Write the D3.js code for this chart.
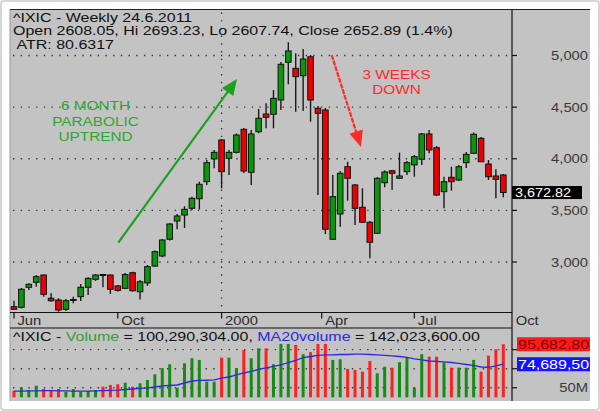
<!DOCTYPE html>
<html><head><meta charset="utf-8">
<script src="https://cdn.jsdelivr.net/npm/d3@7"></script>
<style>body{margin:0;background:#fff}svg{display:block}text{font-family:"Liberation Sans",Arial,sans-serif;white-space:pre}</style>
</head><body><svg id="c" width="600" height="411"></svg>
<script>
// ---- data (weekly ^IXIC) ----
const openP  = [2567,2561,2755,2803,2874,2649,2632,2542,2632,2664,2755,2832,2879,2874,2768,2745,2896,2712,2797,2961,3058,3220,3397,3455,3520,3613,3778,3998,4182,4004,4062,4285,3869,4262,4433,4431,4569,4934,4876,4804,4988,4489,4472,3220,3465,3923,3746,3530,3385,3278,3768,3884,3811,3875,3940,3995,4240,4107,3681,3820,3794,3962,4053,4198,3949,3833,3843];
const highP  = [2625,2748,2794,2874,2879,2697,2649,2642,2664,2787,2852,2884,2881,2879,2777,2893,2906,2826,2971,3111,3223,3378,3465,3540,3632,3778,3988,4085,4191,4085,4245,4298,4278,4482,4537,4666,4937,5128,5021,5063,5005,4511,4492,3843,3881,3971,3755,3714,3397,3823,3886,3891,4059,3978,4036,4249,4278,4124,3826,3923,3940,4065,4254,4211,3988,3898,3852];
const lowP   = [2535,2550,2729,2761,2664,2616,2519,2526,2600,2622,2680,2816,2755,2690,2714,2739,2712,2637,2768,2952,3048,3208,3317,3329,3504,3509,3746,3908,3714,3843,4051,3862,3746,4247,4295,4295,4472,4721,4456,4462,4359,3649,3271,3213,3342,3594,3358,3378,3036,3271,3724,3697,3804,3843,3826,3940,4053,3639,3520,3691,3784,3910,4046,3969,3794,3617,3627];
const closeP = [2542,2736,2784,2858,2687,2625,2535,2625,2637,2755,2842,2874,2876,2736,2724,2879,2722,2809,2955,3100,3213,3368,3446,3510,3617,3753,3962,4062,3875,4062,4230,3881,4240,4392,4401,4585,4915,5044,4795,4966,4569,4440,3317,3633,3859,3811,3520,3385,3191,3811,3872,3859,3833,3962,4020,4240,4085,3649,3778,3778,3923,4043,4237,3971,3826,3801,3672.82];
const volumeM = [46.6,50.1,47.7,52.2,48.7,47.7,48.7,45.9,48.7,45.9,46.6,47.7,51.2,52.9,53.7,55.4,51.2,54.7,58.2,64.2,70.5,74.7,50.1,75.7,81.0,79.2,56.4,56.4,81.6,81.6,70.5,89.7,81.0,91.4,91.4,74.7,96.0,96.0,94.9,85.2,87.3,96.0,96.0,79.2,79.9,69.7,68.7,66.9,78.1,65.2,72.1,71.1,76.8,81.6,50.1,85.2,82.6,82.6,76.3,71.1,71.1,71.1,79.2,66.9,83.7,90.4,95.68];
const ma20M = [46.5,46.5,46.8,46.8,47,47,46.8,46.8,46.5,46.5,46.5,46.7,46.9,47.2,47.5,48.2,48.7,49.3,49.8,50.8,51.9,52.4,52.9,55,57.1,57.7,57.9,58.2,60,61.3,63.4,65.5,67.1,69.2,70.8,72.4,73.9,76.5,78.6,81.6,82.8,83.9,84.4,84.4,84.9,84.9,85.2,85.2,84.9,84.4,83.9,83.4,82.8,81.8,80.2,79.2,78.1,77.6,77.1,76.5,75.5,74.4,73.4,71.8,71.5,72.9,74.69];
const priceTicks = [3000,3500,4000,4500,5000];
const xTickIdx = [0,14,28,41.5,54,67];
const xTickLabels = ["Jun","Oct","2000","Apr","Jul","Oct"];
const yearTickIdx = [28];
const volGrid = [50,70,90];
const volTickLabels = [{v:50,t:"50M"}];
const headerLines = ["^IXIC - Weekly 24.6.2011","Open 2608.05, Hi 2693.23, Lo 2607.74, Close 2652.89 (1.4%)"," ATR: 80.6317"];
const volHeader = [["^IXIC - ","#111"],["Volume","#3c9c3c"],[" = 100,290,304.00, ","#111"],["MA20volume","#2a2ae0"],[" = 142,023,600.00","#111"]];
const volLabels = [{v:95.68,t:"95,682,80",bg:"#ff1a1a",fg:"#7a0000"},{v:74.69,t:"74,689,50",bg:"#1414ff",fg:"#ffffff"}];
const closeLabel = "3,672.82";
const greenArrow = {from:[14.07,3187], to:[30.08,4772]};
const redArrow = {from:[42.85,5005], to:[46.8,4114]};
const greenText = {idx:11.0, prices:[4472,4317,4172], lines:["6 MONTH","PARABOLIC","UPTREND"]};
const redText = {idx:51.6, prices:[4772,4627], lines:["3 WEEKS","DOWN"]};

// ---- layout ----
const L=10,R=590,T=9.5,B=401,PR=512,PB=312.5,SEP=328;
const SX=1.23;
const svg=d3.select("#c");
const x=d3.scaleLinear().domain([0,66]).range([14,503.3]);
const y=d3.scaleLinear().domain([3000,5000]).range([262,55.5]);
const yv=d3.scaleLinear().domain([40,100]).range([397.3,340.1]);
const GREEN="#0b970b", RED="#ee0000";

function txt(g,px,py,s,o={}){
  return g.append("text").attr("transform",`translate(${px},${py}) scale(${o.sx||SX},1)`)
    .attr("font-size",o.size||13).attr("fill",o.fill||"#111")
    .attr("text-anchor",o.anchor||"start").attr("xml:space","preserve").text(s);
}

svg.append("rect").attr("x",1).attr("y",1).attr("width",598).attr("height",409).attr("fill","#fff").attr("stroke","#d6d6d6").attr("stroke-width",2).attr("rx",3);
svg.append("rect").attr("x",L).attr("y",T).attr("width",R-L).attr("height",B-T).attr("fill","#c3c3c3");
svg.append("line").attr("x1",L).attr("x2",R).attr("y1",T).attr("y2",T).attr("stroke","#222").attr("stroke-width",1);
svg.append("line").attr("x1",L).attr("x2",L).attr("y1",T).attr("y2",B).attr("stroke","#999").attr("stroke-width",1);

const grid=svg.append("g").attr("stroke","#3a3a3a").attr("stroke-width",1.4).attr("stroke-dasharray","1.4,6.3");
priceTicks.forEach(t=>grid.append("line").attr("x1",13).attr("x2",PR).attr("y1",y(t)).attr("y2",y(t)));
yearTickIdx.forEach(i=>grid.append("line").attr("x1",x(i)).attr("x2",x(i)).attr("y1",T+3).attr("y2",PB));
volGrid.forEach(v=>grid.append("line").attr("x1",13).attr("x2",PR).attr("y1",yv(v)).attr("y2",yv(v)));

// axes frame
const ax=svg.append("g").attr("stroke","#111").attr("stroke-width",1.2);
ax.append("line").attr("x1",L).attr("x2",PR).attr("y1",PB).attr("y2",PB);
ax.append("line").attr("x1",L).attr("x2",PR).attr("y1",SEP).attr("y2",SEP);
ax.append("line").attr("x1",PR).attr("x2",PR).attr("y1",T).attr("y2",B);
priceTicks.forEach(t=>ax.append("line").attr("x1",PR).attr("x2",PR+5).attr("y1",y(t)).attr("y2",y(t)));
volGrid.forEach(v=>ax.append("line").attr("x1",PR).attr("x2",PR+5).attr("y1",yv(v)).attr("y2",yv(v)));
xTickIdx.forEach(i=>{ if(x(i)<PR-2) ax.append("line").attr("x1",x(i)).attr("x2",x(i)).attr("y1",PB).attr("y2",PB+6);});

// price labels
priceTicks.forEach(t=>txt(svg,588,y(t)+4.5,d3.format(",")(t),{anchor:"end",fill:"#3a3a3a",size:12}));
xTickIdx.forEach((i,k)=>txt(svg,x(i)+(x(i)<PR-2?3.5:5),PB+12.5,xTickLabels[k],{fill:"#2a2a2a",size:12}));

// candles
const idx=d3.range(openP.length);
const cg=svg.append("g");
idx.forEach(i=>{
  const up=closeP[i]>=openP[i];
  cg.append("line").attr("x1",x(i)).attr("x2",x(i)).attr("y1",y(highP[i])).attr("y2",y(lowP[i])).attr("stroke","#1a1a1a").attr("stroke-width",1.4);
  const top=y(Math.max(openP[i],closeP[i])), bot=y(Math.min(openP[i],closeP[i]));
  cg.append("rect").attr("x",x(i)-2.8).attr("width",5.6).attr("y",top).attr("height",Math.max(bot-top,1))
    .attr("fill",up?GREEN:RED).attr("stroke","#111").attr("stroke-width",1);
});

// close label
const last=closeP.length-1;
svg.append("rect").attr("x",PR).attr("y",y(closeP[last])-6.5).attr("width",70).attr("height",13).attr("fill","#000");
txt(svg,515,y(closeP[last])+4.5,closeLabel,{fill:"#fff",size:12,sx:1.2});

// volume
const vg=svg.append("g");
idx.forEach(i=>{
  const up=closeP[i]>=openP[i];
  vg.append("rect").attr("x",x(i)-1.5).attr("width",3).attr("y",yv(volumeM[i])).attr("height",yv(40)-yv(volumeM[i]))
    .attr("fill",up?"#168c16":"#ff2020");
});
svg.append("path").datum(ma20M).attr("fill","none").attr("stroke","#2a2ae0").attr("stroke-width",1.3)
  .attr("d",d3.line().x((d,i)=>x(i)).y(d=>yv(d)));

// volume header
const vh=svg.append("text").attr("transform",`translate(13,340.5) scale(${SX},1)`).attr("font-size",13).attr("xml:space","preserve");
volHeader.forEach(([s,c])=>vh.append("tspan").attr("fill",c).text(s));

// right volume labels
volLabels.forEach(l=>{
  svg.append("rect").attr("x",PR+5).attr("y",yv(l.v)-7).attr("width",R-PR-5).attr("height",14).attr("fill",l.bg);
  txt(svg,PR+6,yv(l.v)+5,l.t,{fill:l.fg,size:13});
});
volTickLabels.forEach(l=>txt(svg,588,yv(l.v)+4.5,l.t,{anchor:"end",fill:"#3a3a3a",size:12}));

// headers
headerLines.forEach((s,k)=>txt(svg,13,22+k*13.3,s,{size:13}));

// annotations
function arrow(a,color,dash){
  const x1=x(a.from[0]),y1=y(a.from[1]),x2=x(a.to[0]),y2=y(a.to[1]);
  const ang=Math.atan2(y2-y1,x2-x1), hl=16, hw=7;
  const bx=x2-hl*Math.cos(ang), by=y2-hl*Math.sin(ang);
  svg.append("line").attr("x1",x1).attr("y1",y1).attr("x2",bx+2*Math.cos(ang)).attr("y2",by+2*Math.sin(ang))
    .attr("stroke",color).attr("stroke-width",2.2).attr("stroke-dasharray",dash||null);
  const p=[[x2,y2],[bx+hw*Math.sin(ang),by-hw*Math.cos(ang)],[bx-hw*Math.sin(ang),by+hw*Math.cos(ang)]];
  svg.append("path").attr("d","M"+p.join("L")+"Z").attr("fill",color);
}
arrow(greenArrow,"#1f9f1f");
arrow(redArrow,"#ff2a2a","5,1");
greenText.lines.forEach((s,k)=>txt(svg,x(greenText.idx),y(greenText.prices[k]),s,{anchor:"middle",fill:"#2fa62f",size:12.5}));
redText.lines.forEach((s,k)=>txt(svg,x(redText.idx),y(redText.prices[k]),s,{anchor:"middle",fill:"#ff2a2a",size:12.5}));
</script></body></html>
